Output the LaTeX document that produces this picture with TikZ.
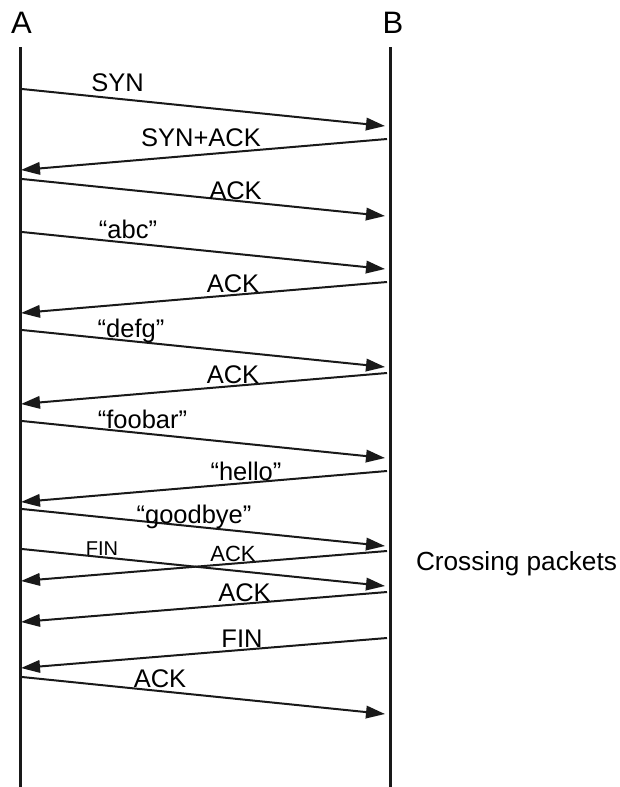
\documentclass[tikz,border=0pt]{standalone}
\usepackage{fontspec}
\setmainfont{Liberation Sans}
\usetikzlibrary{arrows.meta}
\tikzset{
  lifeline/.style={line width=3pt, draw=black!90},
  msg/.style={line width=2pt, draw=black!90, -{Triangle[length=19pt,width=12.5pt]}},
  lbl/.style={anchor=base, inner sep=0pt, font=\fontsize{25.5}{30}\selectfont},
  smalllbl/.style={anchor=base, inner sep=0pt, font=\fontsize{20}{24}\selectfont},
  hdr/.style={anchor=base, inner sep=0pt, font=\fontsize{31}{36}\selectfont},
}
\begin{document}
\begin{tikzpicture}[x=1pt,y=-1pt]
\useasboundingbox (0,0) rectangle (620,787);
% lifelines
\coordinate (Atop) at (20,47);
\coordinate (Abot) at (20,787);
\coordinate (Btop) at (390,47);
\coordinate (Bbot) at (390,787);
\draw[lifeline] (Atop) -- (Abot);
\draw[lifeline] (Btop) -- (Bbot);
\node[hdr] (A) at (21.5,33) {A};
\node[hdr] (B) at (393,33) {B};
% endpoints
\coordinate (s1) at (22,89);  \coordinate (e1) at (385,126);
\coordinate (s2) at (387,139); \coordinate (e2) at (21,170);
\coordinate (s3) at (22,179); \coordinate (e3) at (385,216);
\coordinate (s4) at (22,232); \coordinate (e4) at (385,269);
\coordinate (s5) at (387,282); \coordinate (e5) at (21,313);
\coordinate (s6) at (22,330); \coordinate (e6) at (385,367);
\coordinate (s7) at (387,373); \coordinate (e7) at (21,404);
\coordinate (s8) at (22,421); \coordinate (e8) at (385,458);
\coordinate (s9) at (387,471); \coordinate (e9) at (21,502);
\coordinate (s10) at (22,509); \coordinate (e10) at (385,546);
\coordinate (s11) at (387,551); \coordinate (e11) at (21,581);
\coordinate (s12) at (22,549); \coordinate (e12) at (385,586);
\coordinate (s13) at (387,592); \coordinate (e13) at (21,622);
\coordinate (s14) at (387,638); \coordinate (e14) at (21,668);
\coordinate (s15) at (22,677); \coordinate (e15) at (385,714);
\foreach \i in {1,...,15} { \draw[msg] (s\i) -- (e\i); }
% labels
\node[lbl] (l1) at (117.5,91) {SYN};
\node[lbl] (l2) at (201,146) {SYN+ACK};
\node[lbl] (l3) at (235.5,199) {ACK};
\node[lbl] (l4) at (128,238) {“abc”};
\node[lbl] (l5) at (233,292) {ACK};
\node[lbl] (l6) at (131,337) {“defg”};
\node[lbl] (l7) at (233,383) {ACK};
\node[lbl] (l8) at (142.5,428) {“foobar”};
\node[lbl] (l9) at (246,480) {“hello”};
\node[lbl] (l10) at (194,523) {“goodbye”};
\node[smalllbl] (l12) at (102,555) {FIN};
\node[smalllbl,font=\fontsize{22}{26}\selectfont] (l11) at (233,561) {ACK};
\node[lbl] (l13) at (244.5,601) {ACK};
\node[lbl] (l14) at (242,647) {FIN};
\node[lbl] (l15) at (160,687) {ACK};
\node[lbl,font=\fontsize{26.2}{30}\selectfont] (cross) at (516.5,570) {Crossing packets};
\end{tikzpicture}
\end{document}
